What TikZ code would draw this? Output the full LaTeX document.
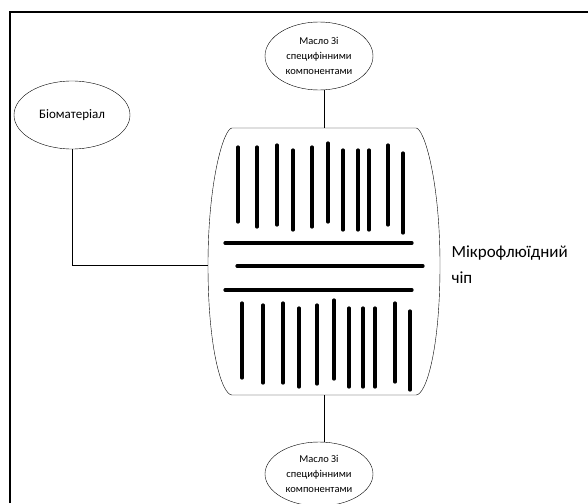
\documentclass[tikz,border=0pt]{standalone}
\usepackage{fontspec}
\setmainfont{Carlito}
\usetikzlibrary{shapes.geometric}

\tikzset{
    oilnode/.style={draw, ellipse, thin, minimum width=108pt, minimum height=68pt, inner sep=0pt, align=center, font=\fontsize{10.5}{15}\selectfont},
    channel/.style={line width=3.2pt, line cap=round},
    link/.style={thin}
}

\begin{document}
\begin{tikzpicture}[x=1pt, y=-1pt]
            \useasboundingbox (0,0) rectangle (588,503);
            \clip (0,0) rectangle (588,503);
            \draw[line width=2.2pt] (10,503) -- (10,12) -- (588,12); % frame

            \node[oilnode] (oiltop) at (319,56) {Масло Зі\\специфінними\\компонентами};
            \node[oilnode, minimum height=64pt] (oilbot) at (319,474) {Масло Зі\\специфінними\\компонентами};
            \node[oilnode, minimum width=116pt, font=\fontsize{13}{14}\selectfont] (bio) at (72,115) {Біоматеріал};
            \node[anchor=west, align=left, font=\fontsize{17}{26}\selectfont] (chiplabel) at (448,265) {Мікрофлюїдний\\чіп};

            % chip body
            \coordinate (chiptop) at (324,128);
            \coordinate (chipbot) at (324,395);
            \coordinate (chipleft) at (208,265);
            \draw[thin] (232,128) -- (416,128) .. controls (424,128) and (440,180) .. (440,265)
                .. controls (440,350) and (426,395) .. (416,395) -- (232,395)
                .. controls (222,395) and (208,350) .. (chipleft)
                .. controls (208,180) and (224,128) .. cycle;

            % upper channels
            \draw[channel] (238,147) -- (238,222);
            \draw[channel] (257,147) -- (257,227);
            \draw[channel] (277,145) -- (277,225);
            \draw[channel] (293,150) -- (293,230);
            \draw[channel] (312,147) -- (312,227);
            \draw[channel] (328,143) -- (328,222);
            \draw[channel] (343,150) -- (343,230);
            \draw[channel] (358,150) -- (358,230);
            \draw[channel] (369,150) -- (369,230);
            \draw[channel] (388,145) -- (388,225);
            \draw[channel] (403,153) -- (403,233);

            % cross channels
            \draw[channel] (225,243) -- (412,243);
            \draw[channel] (237,266) -- (423,266);
            \draw[channel] (225,290) -- (412,290);

            % lower channels
            \draw[channel] (242,303) -- (242,378);
            \draw[channel] (263,305) -- (263,383);
            \draw[channel] (283,303) -- (283,383);
            \draw[channel] (299,308) -- (299,387);
            \draw[channel] (317,305) -- (317,384);
            \draw[channel] (334,300) -- (334,379);
            \draw[channel] (349,308) -- (349,387);
            \draw[channel] (363,308) -- (363,387);
            \draw[channel] (375,308) -- (375,387);
            \draw[channel] (395,303) -- (395,382);
            \draw[channel] (410,311) -- (410,390);

            \draw[link] (oiltop.south -| chiptop) -- (chiptop); % top oil - chip
            \draw[link] (chipbot) -- (oilbot.north -| chipbot); % chip - bottom oil
            \draw[link] (bio.south) |- (chipleft); % biomaterial - chip
        \end{tikzpicture}
\end{document}
